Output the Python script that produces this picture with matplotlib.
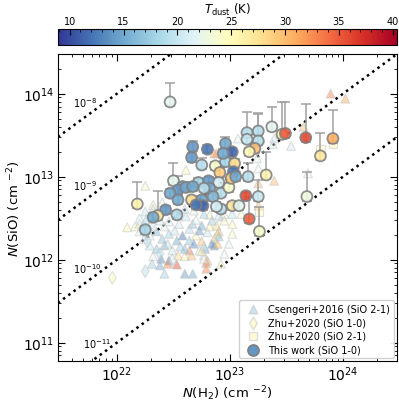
#
#   Imports
#

import numpy as np
import matplotlib
matplotlib.use("Agg")
import matplotlib.pyplot as plt
from matplotlib.colors import Normalize

#
#   Data (log10 column densities, T_dust in K)
#

# This work (SiO 1-0)
work_lx = [22.47, 22.67, 22.80, 22.96, 22.66, 22.75, 22.87, 22.96, 22.91, 23.02,
           22.94, 23.04, 23.03, 22.50, 22.72, 22.58, 22.54, 22.81, 22.90, 22.82,
           22.92, 22.99, 22.66, 22.75, 22.85, 22.76, 22.43, 22.36, 22.32, 22.53,
           22.18, 22.25, 22.47, 22.54, 22.92, 23.02, 23.01, 23.05, 23.16, 23.15,
           23.25, 23.25, 23.15, 23.22, 23.17, 23.37, 23.46, 23.49, 23.67, 23.91,
           23.80, 23.68, 23.32, 23.14, 23.25, 23.17, 23.26, 22.77, 22.88, 22.61,
           22.70, 23.08, 22.67]
work_ly = [13.90, 13.36, 13.33, 13.40, 13.23, 13.14, 13.13, 13.18, 13.05, 13.30,
           13.28, 13.16, 13.06, 12.95, 12.93, 12.88, 12.84, 12.95, 12.93, 12.86,
           12.80, 12.87, 12.72, 12.72, 12.76, 12.65, 12.60, 12.53, 12.51, 12.54,
           12.67, 12.36, 12.80, 12.72, 12.61, 12.65, 12.98, 13.00, 13.00, 13.53,
           13.55, 13.43, 13.45, 13.34, 13.30, 13.60, 13.51, 13.52, 13.47, 13.46,
           13.25, 12.76, 13.02, 12.77, 12.76, 12.49, 12.34, 12.86, 12.64, 12.87,
           12.66, 12.65, 12.88]
work_up = [14.13, 13.43, None, 13.48, None, 13.22, None, None, None, None,
           None, None, None, 13.17, None, None, 13.01, None, None, None,
           None, None, None, None, None, None, None, 12.83, None, None,
           12.94, None, None, None, None, None, None, None, 13.16, 13.78,
           13.77, 13.75, None, None, None, 13.84, 13.90, 13.90, 13.87, 13.80,
           13.53, 13.06, 13.30, None, 12.96, 12.76, 12.63, None, None, None,
           None, None, None]
work_t = [22, 14, 12, 15, 14, 19, 24, 18, 29, 11,
          15, 28, 12, 22, 18, 15, 14, 14, 21, 15,
          19, 24, 28, 15, 16, 11, 14, 27, 15, 19,
          26, 18, 15, 15, 19, 27, 29, 15, 19, 19,
          19, 19, 20, 30, 25, 22, 27, 35, 36, 31,
          27, 23, 26, 36, 20, 35, 24, 19, 21, 15,
          12, 22, 15]

# Csengeri+2016 (SiO 2-1)
cs_lx = [22.09, 22.16, 22.32, 22.25, 22.46, 22.54, 22.61, 22.67, 22.70, 22.75,
         22.82, 22.88, 22.93, 22.29, 22.35, 22.40, 22.46, 22.53, 22.58, 22.64,
         22.70, 22.75, 22.80, 22.86, 22.90, 22.29, 22.35, 22.42, 22.49, 22.56,
         22.64, 22.73, 22.78, 22.86, 22.32, 22.39, 22.46, 22.54, 22.60, 22.66,
         22.77, 22.80, 22.31, 22.38, 22.45, 22.53, 22.42, 22.60, 22.67, 22.79,
         22.26, 22.20, 22.24, 22.84, 22.77, 22.89, 22.77, 22.89, 23.02, 23.02,
         23.10, 23.02, 22.95, 22.90, 22.84, 22.75, 23.89, 24.02, 23.65, 23.54,
         23.39, 23.38, 23.69, 23.39, 23.24, 23.25, 23.27, 23.07, 22.99, 23.25,
         23.25, 22.25, 22.61, 22.40, 22.32, 22.86, 22.80, 22.60, 22.68, 22.77,
         22.95, 22.55, 22.64, 22.73, 22.82, 22.90, 22.99, 22.51, 22.42, 22.38,
         22.45, 22.60, 22.68, 22.95, 22.92, 22.79, 22.20, 22.88]
cs_ly = [12.39, 12.40, 12.66, 12.58, 12.46, 12.53, 12.52, 12.43, 12.48, 12.41,
         12.54, 12.41, 12.52, 12.29, 12.34, 12.25, 12.31, 12.23, 12.29, 12.23,
         12.29, 12.22, 12.33, 12.25, 12.34, 12.17, 12.13, 12.17, 12.11, 12.16,
         12.11, 12.11, 12.13, 12.17, 12.04, 12.01, 11.99, 12.05, 12.04, 12.05,
         12.05, 11.99, 11.95, 11.93, 11.95, 11.94, 11.83, 11.83, 11.83, 11.96,
         12.49, 12.34, 12.25, 12.19, 12.16, 12.19, 12.01, 12.31, 12.43, 12.31,
         12.55, 12.55, 12.55, 12.53, 12.47, 12.10, 14.00, 13.94, 13.60, 13.37,
         13.46, 13.39, 13.04, 12.95, 13.22, 13.10, 13.46, 13.46, 13.36, 12.92,
         12.65, 12.89, 13.08, 12.69, 12.61, 13.28, 12.77, 12.61, 12.59, 12.55,
         12.47, 12.43, 12.37, 12.35, 12.40, 12.28, 12.19, 12.35, 12.40, 12.47,
         12.19, 12.13, 12.19, 12.07, 11.95, 11.89, 12.43, 13.28]
cs_t = [25, 24, 24, 20, 21, 22, 20, 17, 22, 15,
        24, 28, 22, 22, 16, 17, 18, 15, 12, 17,
        25, 30, 20, 27, 30, 20, 17, 16, 20, 18,
        33, 22, 15, 13, 22, 13, 12, 28, 25, 30,
        23, 31, 18, 15, 33, 36, 18, 14, 15, 33,
        18, 22, 20, 13, 20, 30, 22, 28, 25, 24,
        24, 20, 23, 20, 18, 26, 33, 31, 30, 21,
        21, 21, 22, 30, 22, 22, 24, 22, 30, 30,
        30, 24, 25, 22, 20, 32, 20, 20, 22, 18,
        24, 21, 19, 14, 25, 17, 22, 20, 22, 21,
        19, 16, 13, 22, 24, 33, 24, 32]

# Zhu+2020 (SiO 1-0)
zhu10_lx = [21.96, 22.25, 22.20, 22.31, 22.49, 22.38, 22.27]
zhu10_ly = [11.78, 11.86, 12.47, 12.42, 11.99, 12.07, 12.22]
zhu10_t = [25, 19, 21, 20, 21, 19, 20]

# Zhu+2020 (SiO 2-1)
zhu21_lx = [23.91, 23.80, 23.26]
zhu21_ly = [13.39, 13.33, 12.58]
zhu21_t = [26, 25, 25]

# SiO abundance lines
abund = [1e-8, 1e-9, 1e-10, 1e-11]
abund_labels = [r"$10^{-8}$", r"$10^{-9}$", r"$10^{-10}$", r"$10^{-11}$"]
abund_lab_x = [4.1e21, 4.1e21, 4.1e21, 5.0e21]
abund_lab_y = [8.0e13, 8.0e12, 7.9e11, 9.8e10]

#
#   Plot
#

cmap = plt.get_cmap("RdYlBu_r")
norm = Normalize(vmin=8.9, vmax=40.4)

fig = plt.figure(figsize=(3.99, 4.02), dpi=100)
ax = fig.add_axes([0.145, 0.0995, 0.85, 0.7635])
cax = fig.add_axes([0.145, 0.886, 0.85, 0.040])

xlim = (3e21, 3e24)
ylim = (6e10, 3e14)
xx = np.array(xlim)
for a in abund:
    ax.plot(xx, a * xx, color="k", ls=(0, (1, 1.6)), lw=1.8, zorder=1)
for lab, tx, ty in zip(abund_labels, abund_lab_x, abund_lab_y):
    ax.text(tx, ty, lab, fontsize=7, va="center", ha="left")

# Csengeri triangles
ax.scatter(10 ** np.array(cs_lx), 10 ** np.array(cs_ly), c=cs_t, cmap=cmap, norm=norm,
           marker="^", s=40, alpha=0.45, edgecolors="#bbbbbb", linewidths=0.8, zorder=2)
# Zhu diamonds / squares
ax.scatter(10 ** np.array(zhu10_lx), 10 ** np.array(zhu10_ly), c=zhu10_t, cmap=cmap, norm=norm,
           marker="d", s=42, alpha=0.45, edgecolors="#bbbbbb", linewidths=0.8, zorder=2)
ax.scatter(10 ** np.array(zhu21_lx), 10 ** np.array(zhu21_ly), c=zhu21_t, cmap=cmap, norm=norm,
           marker="s", s=34, alpha=0.45, edgecolors="#bbbbbb", linewidths=0.8, zorder=2)

# This work
wx = 10 ** np.array(work_lx)
wy = 10 ** np.array(work_ly)
up = np.array([u if u is not None else ly + 0.05 for u, ly in zip(work_up, work_ly)])
yerr = [wy - 10 ** (np.array(work_ly) - 0.05), 10 ** up - wy]
ax.errorbar(wx, wy, yerr=yerr, fmt="none", ecolor="#a0a0a0", elinewidth=1.1,
            capsize=3.5, capthick=1.1, zorder=3)
ax.scatter(wx, wy, c=work_t, cmap=cmap, norm=norm, marker="o", s=62, alpha=0.88,
           edgecolors="#808080", linewidths=1.3, zorder=4)

ax.set_xscale("log")
ax.set_yscale("log")
ax.set_xlim(*xlim)
ax.set_ylim(*ylim)
ax.set_xlabel(r"$N$(H$_2$) (cm $^{-2}$)", fontsize=9.5, labelpad=0)
ax.set_ylabel(r"$N$(SiO) (cm $^{-2}$)", fontsize=9.5, labelpad=0)
ax.tick_params(which="both", direction="in", top=True, right=True, labelsize=10, pad=2.5)
ax.tick_params(which="major", length=5)
ax.tick_params(which="minor", length=2.5)

# legend
h1 = ax.scatter([], [], marker="^", s=40, color=cmap(norm(17)), alpha=0.45,
                edgecolors="#bbbbbb")
h2 = ax.scatter([], [], marker="d", s=42, color=cmap(norm(26)), alpha=0.45,
                edgecolors="#bbbbbb")
h3 = ax.scatter([], [], marker="s", s=34, color=cmap(norm(26)), alpha=0.45,
                edgecolors="#bbbbbb")
h4 = ax.scatter([], [], marker="o", s=62, color=cmap(norm(14)), edgecolors="#808080",
                linewidths=1.3)
ax.legend([h1, h2, h3, h4],
          ["Csengeri+2016 (SiO 2-1)", "Zhu+2020 (SiO 1-0)", "Zhu+2020 (SiO 2-1)",
           "This work (SiO 1-0)"],
          loc="lower right", fontsize=7, handletextpad=0.6, borderpad=0.4,
          labelspacing=0.35, framealpha=0.9, borderaxespad=0.3)

# colorbar
sm = plt.cm.ScalarMappable(norm=norm, cmap=cmap)
cb = fig.colorbar(sm, cax=cax, orientation="horizontal")
cb.set_ticks([10, 15, 20, 25, 30, 35, 40])
cax.xaxis.set_ticks_position("top")
cax.xaxis.set_label_position("top")
cax.set_xticks(np.arange(9, 41, 1), minor=True)
cax.tick_params(which="both", direction="in", labelsize=7, top=True, bottom=False, pad=2)
cax.tick_params(which="major", length=4)
cax.tick_params(which="minor", length=2)
cb.set_label(r"$T_{\rm dust}$ (K)", fontsize=8.5, labelpad=2.5)

fig.savefig("out.png", dpi=100)
